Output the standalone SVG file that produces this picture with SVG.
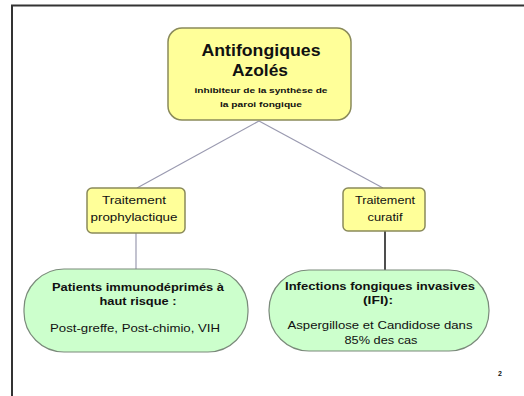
<svg xmlns="http://www.w3.org/2000/svg" width="524" height="396" viewBox="0 0 524 396">
<style>
.y{fill:#ffff99;stroke:#8a8a5a;stroke-width:1.5}
.g{fill:#ccffcc;stroke:#7a8a7a;stroke-width:1.2}
text{font-family:"Liberation Sans",Arial,sans-serif;text-anchor:middle;fill:#111}
.b{font-weight:bold}
.c{stroke:#9a9ab0;stroke-width:1.2;fill:none}
</style>
<rect width="524" height="396" fill="#fff"/>
<path d="M12 396 V5.5 H524" fill="none" stroke="#333" stroke-width="2"/>
<g id="connectors">
<line class="c" x1="259" y1="121" x2="137" y2="188"/>
<line class="c" x1="259" y1="121" x2="383" y2="188"/>
<line class="c" x1="136" y1="233" x2="136" y2="269"/>
<line x1="385" y1="231" x2="385" y2="271" stroke="#222" stroke-width="1.6"/>
</g>
<g id="n-top">
<rect class="y" x="168" y="28" width="183" height="92" rx="14"/>
<text class="b" x="261" y="56" font-size="17" textLength="119" lengthAdjust="spacingAndGlyphs">Antifongiques</text>
<text class="b" x="260" y="76" font-size="17" textLength="56" lengthAdjust="spacingAndGlyphs">Azolés</text>
<text class="b" x="261" y="93" font-size="7.5" textLength="133" lengthAdjust="spacingAndGlyphs">inhibiteur de la synthèse de</text>
<text class="b" x="261" y="107" font-size="7.5" textLength="82" lengthAdjust="spacingAndGlyphs">la paroi fongique</text>
</g>
<g id="n-proph">
<rect class="y" x="87" y="188" width="98" height="45" rx="5"/>
<text x="134" y="204" font-size="11" textLength="64" lengthAdjust="spacingAndGlyphs">Traitement</text>
<text x="134" y="221" font-size="11" textLength="87" lengthAdjust="spacingAndGlyphs">prophylactique</text>
</g>
<g id="n-cur">
<rect class="y" x="343" y="188" width="82" height="43" rx="5"/>
<text x="385" y="204" font-size="11" textLength="60" lengthAdjust="spacingAndGlyphs">Traitement</text>
<text x="385" y="221" font-size="11" textLength="35" lengthAdjust="spacingAndGlyphs">curatif</text>
</g>
<g id="n-patients">
<rect class="g" x="24" y="269" width="224" height="83" rx="40"/>
<text class="b" x="138" y="291" font-size="11" textLength="172" lengthAdjust="spacingAndGlyphs">Patients immunodéprimés à</text>
<text class="b" x="138" y="305" font-size="11" textLength="77" lengthAdjust="spacingAndGlyphs">haut risque :</text>
<text x="135" y="332" font-size="11" textLength="170" lengthAdjust="spacingAndGlyphs">Post-greffe, Post-chimio, VIH</text>
</g>
<g id="n-ifi">
<rect class="g" x="269" y="270" width="220" height="81" rx="40"/>
<text class="b" x="380" y="290" font-size="11" textLength="190" lengthAdjust="spacingAndGlyphs">Infections fongiques invasives</text>
<text class="b" x="378" y="304" font-size="11" textLength="30" lengthAdjust="spacingAndGlyphs">(IFI):</text>
<text x="380" y="329" font-size="11" textLength="185" lengthAdjust="spacingAndGlyphs">Aspergillose et Candidose dans</text>
<text x="381" y="344" font-size="11" textLength="73" lengthAdjust="spacingAndGlyphs">85% des cas</text>
</g>
<text x="500" y="376" font-size="7" class="b">2</text>
</svg>
